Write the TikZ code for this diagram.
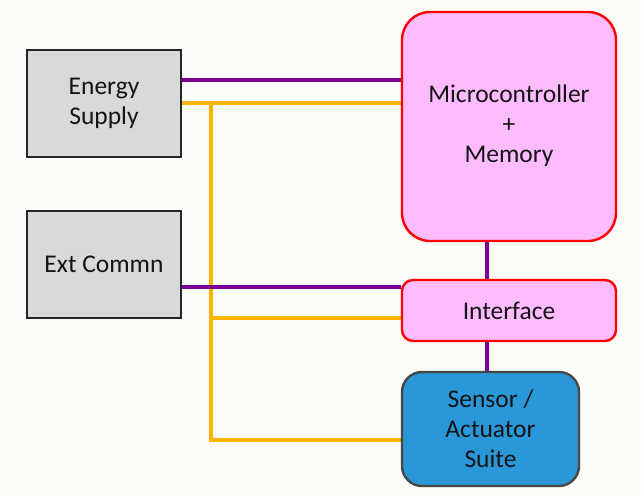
\documentclass[tikz,border=0pt]{standalone}
\usepackage{fontspec}
\setmainfont{Carlito}
\usetikzlibrary{backgrounds}
\begin{document}
\begin{tikzpicture}[x=1pt,y=-1pt,
  base/.style={draw,line width=2pt,align=center,inner sep=0pt,text=black!92,
    font=\fontsize{25.5}{30}\selectfont},
  graybox/.style={base,fill=boxgray,draw=black!85,line width=2.2pt,minimum width=154pt,minimum height=107pt},
  pinkbox/.style={base,fill=pinkfill,draw=red,line width=2.4pt},
  bluebox/.style={base,fill=bluefill,draw=black!72,line width=2.4pt},
  purp/.style={draw=purpline,line width=4pt},
  orng/.style={draw=orangeline,line width=4pt}]
\definecolor{bgc}{HTML}{FDFCF9}
\definecolor{boxgray}{HTML}{D9D9D9}
\definecolor{pinkfill}{HTML}{FFBBFF}
\definecolor{bluefill}{HTML}{2A98D8}
\definecolor{purpline}{HTML}{7F0099}
\definecolor{orangeline}{HTML}{FFB400}
% nodes
\node[graybox] (E) at (104,103.5) {Energy\\Supply};
\node[graybox] (X) at (104,264.5) {Ext Commn};
\node[pinkbox,rounded corners=28pt,minimum width=214pt,minimum height=229pt] (M) at (509,126.5) {\raisebox{-2pt}{\begin{tabular}{@{}c@{}}Microcontroller\\+\\Memory\end{tabular}}};
\node[pinkbox,rounded corners=11pt,minimum width=214pt,minimum height=61pt] (I) at (509,310.5) {Interface};
\node[bluebox,rounded corners=20pt,minimum width=177pt,minimum height=114pt] (S) at (490.5,429) {Sensor /\\Actuator\\Suite};
% level coordinates
\coordinate (yP1) at (0,80);
\coordinate (yO1) at (0,103);
\coordinate (yP2) at (0,287);
\coordinate (yO2) at (0,318);
\coordinate (yO3) at (0,440);
\coordinate (T1) at (211,103);
\coordinate (vx) at (487,0);
\begin{pgfonlayer}{background}
\fill[bgc] (0,0) rectangle (641,495);
\draw[purp] (E.east |- yP1) -- (M.west |- yP1);
\draw[orng] (E.east |- yO1) -- (M.west |- yO1);
\draw[orng] (T1) -- (T1 |- yO3) -- (S.west |- yO3);
\draw[orng] (T1 |- yO2) -- (I.west |- yO2);
\draw[purp] (X.east |- yP2) -- (I.west |- yP2);
\draw[purp] (vx |- M.south) -- (vx |- I.north);
\draw[purp] (vx |- I.south) -- (vx |- S.north);
\end{pgfonlayer}
\useasboundingbox (0,0) rectangle (641,495);
\end{tikzpicture}
\end{document}
